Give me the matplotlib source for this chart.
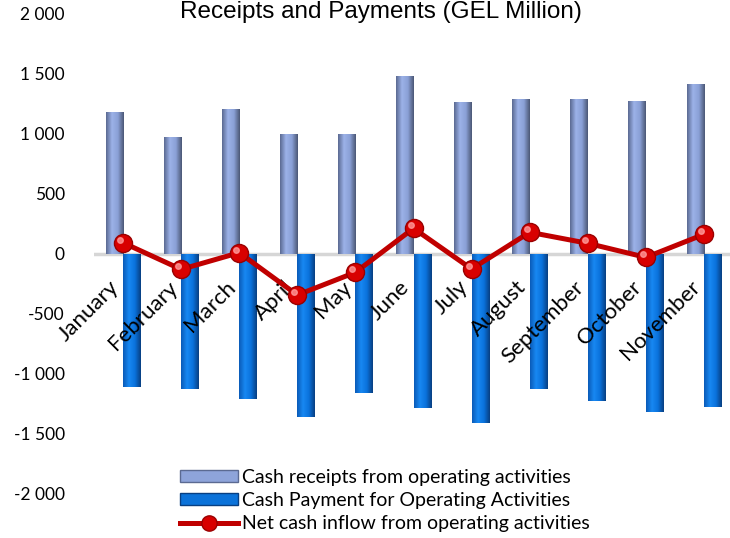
import numpy as np
import matplotlib
matplotlib.use("Agg")
import matplotlib.pyplot as plt
from matplotlib.colors import LinearSegmentedColormap
from matplotlib.patches import Patch
from matplotlib.lines import Line2D
from matplotlib.ticker import FuncFormatter
from matplotlib.transforms import ScaledTranslation

months = ["January", "February", "March", "April", "May", "June",
          "July", "August", "September", "October", "November"]
receipts = [1186, 972, 1211, 1000, 1000, 1486, 1269, 1294, 1294, 1278, 1419]
payments = [-1111, -1125, -1208, -1356, -1156, -1281, -1406, -1122, -1225, -1317, -1272]
net_inflow = [94, -128, 11, -342, -153, 214, -125, 181, 89, -28, 164]

plt.rcParams['font.family'] = ['Lato', 'DejaVu Sans']

fig = plt.figure(figsize=(7.3, 5.38), dpi=100)
ax = fig.add_axes([94 / 730, 44 / 538, 639 / 730, 480 / 538])

x = np.arange(len(months))
w = 0.3

rec_cmap = LinearSegmentedColormap.from_list("rec", ["#5b6a92", "#9cb2e8", "#8aa0d6", "#4c5876"])
pay_cmap = LinearSegmentedColormap.from_list("pay", ["#0a5bb8", "#1888f2", "#0a72dc", "#083f82"])

bars_r = ax.bar(x - w / 2, receipts, w, color="#8ea4da", zorder=2)
bars_p = ax.bar(x + w / 2, payments, w, color="#0b72d9", zorder=2)

# gradient fill clipped to each bar
grad = np.linspace(0, 1, 64).reshape(1, -1)
for bars, cmap in [(bars_r, rec_cmap), (bars_p, pay_cmap)]:
    for b in bars:
        x0, y0 = b.get_x(), b.get_y()
        x1, y1 = x0 + b.get_width(), y0 + b.get_height()
        im = ax.imshow(grad, cmap=cmap, aspect="auto", zorder=2.2,
                       extent=(x0, x1, min(y0, y1), max(y0, y1)))
        im.set_clip_path(b)

ax.axhline(0, color="#d6d6d6", lw=2.5, zorder=1.5)

ax.plot(x, net_inflow, color="#c00000", lw=3.6, marker="o", ms=13,
        markerfacecolor="#d80000", markeredgecolor="#9a0000", markeredgewidth=1, zorder=4)
# small highlight on the markers
shift = ScaledTranslation(-3 / 100, 3 / 100, fig.dpi_scale_trans)
ax.plot(x, net_inflow, "o", ms=4, color="#ff9a9a", alpha=0.8, zorder=4.5,
        transform=ax.transData + shift)

for s in ["top", "right", "left"]:
    ax.spines[s].set_visible(False)
ax.spines["bottom"].set_position(("data", 0))
ax.spines["bottom"].set_color("none")

ax.set_xlim(-0.5, len(months) - 0.5)
ax.set_ylim(-2000, 2000)
ax.set_yticks(np.arange(-2000, 2001, 500))
ax.yaxis.set_major_formatter(FuncFormatter(lambda v, p: f"{int(v):,}".replace(",", " ")))
ax.set_xticks(x)
ax.set_xticklabels(months, rotation=45, ha="right", va="top", fontsize=16)
label_shift = ScaledTranslation(3 / 100, 0, fig.dpi_scale_trans)
for t in ax.get_xticklabels():
    t.set_transform(t.get_transform() + label_shift)
ax.xaxis.set_zorder(3)

ax.tick_params(axis="both", length=0)
ax.tick_params(axis="y", labelsize=12.5, pad=21)
ax.tick_params(axis="x", pad=16.5)

fig.text(0.522, 0.978, "Receipts and Payments (GEL Million)", ha="center", va="center",
         fontsize=17.5, family=["Liberation Sans", "DejaVu Sans"])

handles = [
    Patch(facecolor="#8ea4da", edgecolor="#5b6a92"),
    Patch(facecolor="#0b72d9", edgecolor="#083f82"),
    Line2D([0], [0], color="#c00000", lw=3.6, marker="o", ms=11,
           markerfacecolor="#d80000", markeredgecolor="#9a0000"),
]
labels = ["Cash receipts from operating activities",
          "Cash Payment for Operating Activities",
          "Net cash inflow from operating activities"]
fig.legend(handles, labels, loc="center left", bbox_to_anchor=(180 / 730, 1 - 500.5 / 538),
           frameon=False, fontsize=14, handlelength=3.0, handleheight=0.55,
           handletextpad=0.2, labelspacing=0.33, borderpad=0, borderaxespad=0)

fig.savefig("out.png", dpi=100)
